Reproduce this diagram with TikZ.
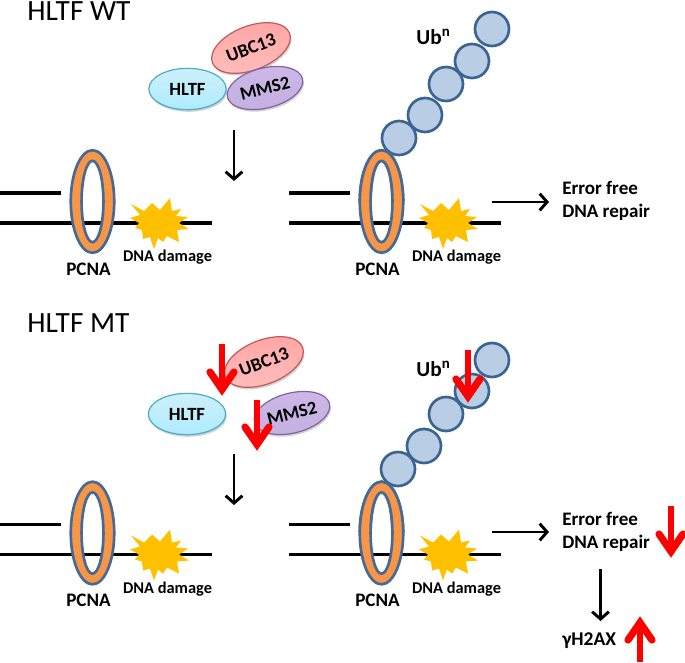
\documentclass[tikz,border=0pt]{standalone}
\usepackage{fontspec}
\setmainfont{Carlito}
\usetikzlibrary{arrows.meta,shadows,shapes.geometric}
\definecolor{ringfill}{RGB}{247,150,70}
\definecolor{ringline}{RGB}{70,105,150}
\definecolor{beadfill}{RGB}{185,205,229}
\definecolor{beadline}{RGB}{60,100,145}
\definecolor{starfill}{RGB}{255,192,0}
\definecolor{hltfline}{RGB}{75,172,198}
\definecolor{hltftop}{RGB}{205,240,250}
\definecolor{hltfbot}{RGB}{175,235,255}
\definecolor{ubcline}{RGB}{192,90,88}
\definecolor{ubctop}{RGB}{255,165,165}
\definecolor{ubcbot}{RGB}{255,190,188}
\definecolor{mmsline}{RGB}{128,100,162}
\definecolor{mmstop}{RGB}{205,185,230}
\definecolor{mmsbot}{RGB}{195,175,225}
\tikzset{
  px/.style={x=0.75pt,y=-0.75pt},
  strand/.style={line width=2.6pt,black},
  ringshape/.style={fill=ringfill,draw=ringline,line width=2pt,even odd rule},
  bead/.style={circle,minimum size=25.5pt,inner sep=0pt,fill=beadfill,draw=beadline,line width=2pt},
  lbl/.style={font=\bfseries\fontsize{14.3pt}{16pt}\selectfont,inner sep=0pt},
  smalllbl/.style={font=\bfseries\fontsize{12.3pt}{14pt}\selectfont,inner sep=0pt},
  title/.style={font=\fontsize{22pt}{24pt}\selectfont,anchor=base west,inner sep=0pt},
  protein/.style={ellipse,inner sep=0pt,line width=0.9pt,font=\bfseries\fontsize{14pt}{16pt}\selectfont,
    general shadow={shadow xshift=0.8pt,shadow yshift=-1.6pt,fill=black,opacity=0.18}},
  hltfp/.style={protein,minimum width=58pt,minimum height=31pt,draw=hltfline,top color=hltftop,bottom color=hltfbot},
  ubcp/.style={protein,minimum width=62pt,minimum height=33pt,draw=ubcline,top color=ubctop,bottom color=ubcbot},
  mmsp/.style={protein,minimum width=58pt,minimum height=30pt,draw=mmsline,top color=mmstop,bottom color=mmsbot},
  blackarrow/.style={line width=2.2pt,black,-{Straight Barb[length=5.5pt,width=12.5pt,line width=2.2pt]}},
  redstem/.style={line width=4.6pt,red},
  redwing/.style={line width=5.4pt,red,line cap=round,miter limit=10},
}
% Thick red arrow from #1 to #2; #3 is 1 for pointing down, -1 for pointing up
\newcommand{\drawred}[3]{%
  \draw[redstem] (#1) -- ([shift={(0,-6*#3)}]#2);
  \draw[redwing] ([shift={(-12,-23*#3)}]#2) -- ([shift={(0,-5.6*#3)}]#2) -- ([shift={(12,-23*#3)}]#2);
}
% One DNA strand pair with its clamp, lesion and labels
\newcommand{\repairsite}[3]{%
  \begin{scope}[shift={(#1,#2)},name prefix=#3]
    \coordinate (topL) at (0,193);
    \coordinate (topR) at (61,193);
    \coordinate (botL) at (0,223);
    \coordinate (botR) at (212,223);
    \draw[strand] (topL) -- (topR);
    \draw[strand] (botL) -- (botR);
    \path[ringshape] (92.5,201.5) ellipse [x radius=16.3pt,y radius=38.5pt]
                     (92.5,201.5) ellipse [x radius=8.2pt,y radius=30.5pt];
    \fill[starfill] (131,204) -- (144,211) -- (152,203) -- (160,210) -- (170,198) -- (172,211)
      -- (181,209) -- (176,216) -- (188,217) -- (179,223) -- (189,229) -- (177,230)
      -- (179,242) -- (167,236) -- (163,242) -- (158,238) -- (154,249) -- (150,237) -- (143,239)
      -- (142,230) -- (135,228) -- (139,223) -- (130,218) -- (140,215) -- cycle;
    \node[lbl] (pcna) at (88.5,269) {PCNA};
    \node[smalllbl] (damage) at (167.5,257.5) {DNA damage};
  \end{scope}}
\begin{document}
\begin{tikzpicture}[px]
\useasboundingbox (0,0) rectangle (685,662);

\node[title] (wt) at (27,20) {HLTF WT};
\node[title] (mt) at (27,332) {HLTF MT};

% Upper row
\repairsite{0}{0}{a}
\repairsite{289}{0}{b}
\node[ubcp,rotate=21] (ubcA) at (251,48) {UBC13};
\node[hltfp] (hltfA) at (187.5,89) {HLTF};
\node[mmsp,rotate=14] (mmsA) at (265,88) {MMS2};
\coordinate (downAs) at (234,130);
\coordinate (downAe) at (234,181);
\draw[blackarrow] (downAs) -- (downAe);
\node[bead] (u5) at (399,138) {};
\node[bead] (u4) at (425,115) {};
\node[bead] (u3) at (446,84) {};
\node[bead] (u2) at (472,61) {};
\node[bead] (u1) at (492,29) {};
\begin{scope}
  \clip (340,145) rectangle (420,200);
  \path[ringshape] (381.5,201.5) ellipse [x radius=16.3pt,y radius=38.5pt]
                   (381.5,201.5) ellipse [x radius=8.2pt,y radius=30.5pt];
\end{scope}
\node[lbl,font=\bfseries\fontsize{16pt}{18pt}\selectfont] (ubA) at (433.5,37) {Ub\textsuperscript{n}};
\coordinate (repAs) at (492,202);
\coordinate (repAe) at (549,202);
\draw[blackarrow] (repAs) -- (repAe);
\node[lbl,anchor=west,align=left,font=\bfseries\fontsize{14.3pt}{17.4pt}\selectfont] (errA) at (562,201) {Error free\\DNA repair};

% Lower row
\repairsite{0}{331.5}{c}
\repairsite{289}{331.5}{d}
\node[ubcp,rotate=21] (ubcB) at (264,362) {UBC13};
\node[hltfp] (hltfB) at (187,414) {HLTF};
\node[mmsp,rotate=14] (mmsB) at (292,413) {MMS2};
\coordinate (redAs) at (222,344);
\coordinate (redAe) at (222,395);
\drawred{redAs}{redAe}{1}
\coordinate (redBs) at (257,400);
\coordinate (redBe) at (257,450);
\drawred{redBs}{redBe}{1}
\coordinate (downBs) at (234,454);
\coordinate (downBe) at (234,505);
\draw[blackarrow] (downBs) -- (downBe);
\node[bead] (v5) at (398,469) {};
\node[bead] (v4) at (424,446) {};
\node[bead] (v3) at (446,414) {};
\node[bead] (v2) at (472,391) {};
\node[bead] (v1) at (492,360) {};
\begin{scope}
  \clip (340,477) rectangle (420,531);
  \path[ringshape] (381.5,533) ellipse [x radius=16.3pt,y radius=38.5pt]
                   (381.5,533) ellipse [x radius=8.2pt,y radius=30.5pt];
\end{scope}
\node[lbl,font=\bfseries\fontsize{16pt}{18pt}\selectfont] (ubB) at (433.5,369) {Ub\textsuperscript{n}};
\coordinate (redCs) at (468,350);
\coordinate (redCe) at (468,402);
\drawred{redCs}{redCe}{1}
\coordinate (repBs) at (492,532);
\coordinate (repBe) at (549,532);
\draw[blackarrow] (repBs) -- (repBe);
\node[lbl,anchor=west,align=left,font=\bfseries\fontsize{14.3pt}{17.4pt}\selectfont] (errB) at (562,531.5) {Error free\\DNA repair};
\coordinate (redDs) at (671,506);
\coordinate (redDe) at (671,557);
\drawred{redDs}{redDe}{1}
\coordinate (gamS) at (600.5,569);
\coordinate (gamE) at (600.5,621);
\draw[blackarrow] (gamS) -- (gamE);
\node[lbl,anchor=west,font=\bfseries\fontsize{14.6pt}{16pt}\selectfont] (gam) at (562,641) {γH2AX};
\coordinate (redEs) at (640,662);
\coordinate (redEe) at (640,617);
\drawred{redEs}{redEe}{-1}
\end{tikzpicture}
\end{document}
